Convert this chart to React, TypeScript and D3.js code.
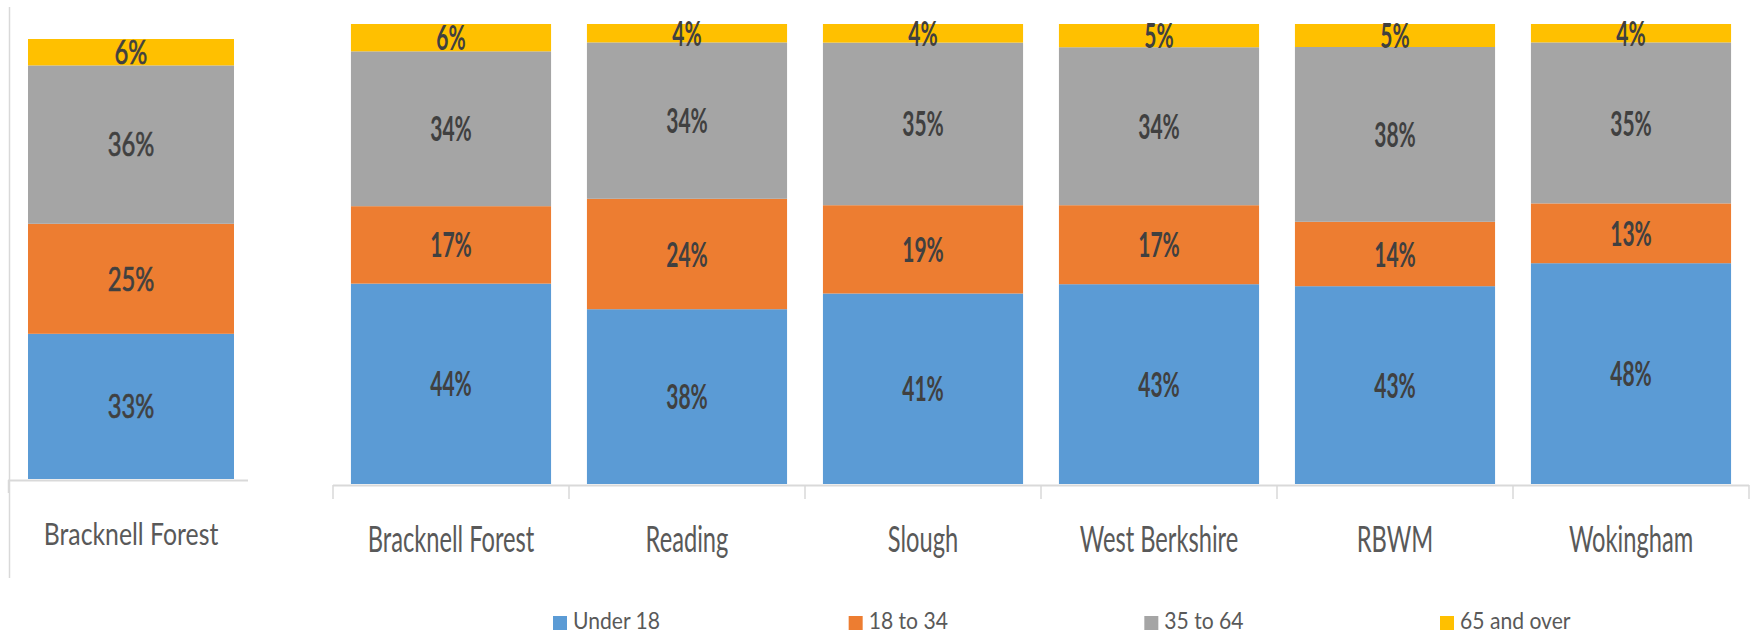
import React from 'react';
import * as d3 from 'd3';

const series = ['Under 18', '18 to 34', '35 to 64', '65 and over'];
const colors = ['#5B9BD5', '#ED7D31', '#A5A5A5', '#FFC000'];

const leftCategories = ['Bracknell Forest'];
const leftValues = [[33, 25, 36, 6]];

const rightCategories = ['Bracknell Forest', 'Reading', 'Slough', 'West Berkshire', 'RBWM', 'Wokingham'];
const under18 = [44, 38, 41, 43, 43, 48];
const age18to34 = [17, 24, 19, 17, 14, 13];
const age35to64 = [34, 34, 35, 34, 38, 35];
const over65 = [6, 4, 4, 5, 5, 4];

const FONT = 'Lato, "Open Sans", sans-serif';
const AXIS = '#d9d9d9';

function stackRows(cats: string[], rows: number[][]) {
  return cats.map((c, i) => {
    const vals = rows[i];
    const total = d3.sum(vals);
    let acc = 0;
    const segs = vals.map((v, k) => {
      const s = { key: series[k], value: v, y0: acc / total, y1: (acc + v) / total, k };
      acc += v;
      return s;
    });
    return { cat: c, segs };
  });
}

function Label(props: any) {
  const { x, y, sx, size, weight, color, text, stroke } = props;
  return (
    <g transform={`translate(${x},${y}) scale(${sx},1)`}>
      <text
        textAnchor="middle"
        dy="0.36em"
        fontFamily={FONT}
        fontSize={size}
        fontWeight={weight}
        fill={color}
        stroke={stroke ? color : 'none'}
        strokeWidth={stroke || 0}
      >
        {text}
      </text>
    </g>
  );
}

export default function App() {
  // left chart
  const lx = d3.scaleBand().domain(leftCategories).range([8, 254]).padding(0.0885);
  const ly = d3.scaleLinear().domain([0, 1]).range([479, 39]);
  const leftStack = stackRows(leftCategories, leftValues);

  // right chart
  const rightRows = rightCategories.map((_, i) => [under18[i], age18to34[i], age35to64[i], over65[i]]);
  const rx = d3.scaleBand().domain(rightCategories).range([333, 1749]).paddingInner(0.152).paddingOuter(0.076);
  const ry = d3.scaleLinear().domain([0, 1]).range([484, 24]);
  const rightStack = stackRows(rightCategories, rightRows);
  const step = rx.step();
  const tickXs = d3.range(rightCategories.length + 1).map((i) => 333 + i * step);

  const legendX = d3.scalePoint().domain(series).range([553, 1440]);

  return (
    <svg width={1752} height={634} style={{ position: 'absolute', left: 0, top: 0, background: '#fff' }}>
      {/* left chart */}
      <line x1={9.5} x2={9.5} y1={7} y2={578} stroke={AXIS} strokeWidth={1.5} />
      {leftStack.map((d) => (
        <g key={d.cat}>
          {d.segs.map((s) => (
            <rect
              key={s.key}
              x={lx(d.cat)}
              width={lx.bandwidth()}
              y={ly(s.y1)}
              height={ly(s.y0) - ly(s.y1)}
              fill={colors[s.k]}
            />
          ))}
          {d.segs.map((s) => (
            <Label
              key={'l' + s.key}
              x={(lx(d.cat) as number) + lx.bandwidth() / 2}
              y={(ly(s.y0) + ly(s.y1)) / 2}
              sx={0.72}
              size={33}
              weight={400}
              stroke={0.7}
              color="#404040"
              text={`${s.value}%`}
            />
          ))}
        </g>
      ))}
      <line x1={8} x2={248} y1={480.5} y2={480.5} stroke={AXIS} strokeWidth={2} />
      <line x1={8.5} x2={8.5} y1={480} y2={493} stroke={AXIS} strokeWidth={1.5} />
      {leftCategories.map((c) => (
        <Label
          key={c}
          x={(lx(c) as number) + lx.bandwidth() / 2}
          y={534}
          sx={0.8}
          size={31}
          weight={400}
          color="#595959"
          text={c}
        />
      ))}

      {/* right chart */}
      {rightStack.map((d) => (
        <g key={d.cat}>
          {d.segs.map((s) => (
            <rect
              key={s.key}
              x={rx(d.cat)}
              width={rx.bandwidth()}
              y={ry(s.y1)}
              height={ry(s.y0) - ry(s.y1)}
              fill={colors[s.k]}
            />
          ))}
        </g>
      ))}
      {rightStack.map((d) => (
        <g key={'lab' + d.cat}>
          {d.segs.map((s) => (
            <Label
              key={s.key}
              x={(rx(d.cat) as number) + rx.bandwidth() / 2}
              y={(ry(s.y0) + ry(s.y1)) / 2}
              sx={0.6}
              size={35}
              weight={700}
              color="#404040"
              text={`${s.value}%`}
            />
          ))}
        </g>
      ))}
      <line x1={333} x2={1749} y1={485.5} y2={485.5} stroke={AXIS} strokeWidth={2} />
      {tickXs.map((x, i) => (
        <line key={i} x1={x} x2={x} y1={485} y2={499} stroke={AXIS} strokeWidth={1.5} />
      ))}
      {rightCategories.map((c) => (
        <Label
          key={c}
          x={(rx(c) as number) + rx.bandwidth() / 2}
          y={538.5}
          sx={0.64}
          size={37}
          weight={400}
          color="#595959"
          text={c}
        />
      ))}

      {/* legend */}
      {series.map((s, i) => (
        <g key={s} transform={`translate(${legendX(s)},0)`}>
          <rect x={0} y={616} width={14} height={14} fill={colors[i]} />
          <g transform={`translate(20,629) scale(0.88,1)`}>
            <text fontFamily={FONT} fontSize={24} fill="#595959">
              {s}
            </text>
          </g>
        </g>
      ))}
    </svg>
  );
}
